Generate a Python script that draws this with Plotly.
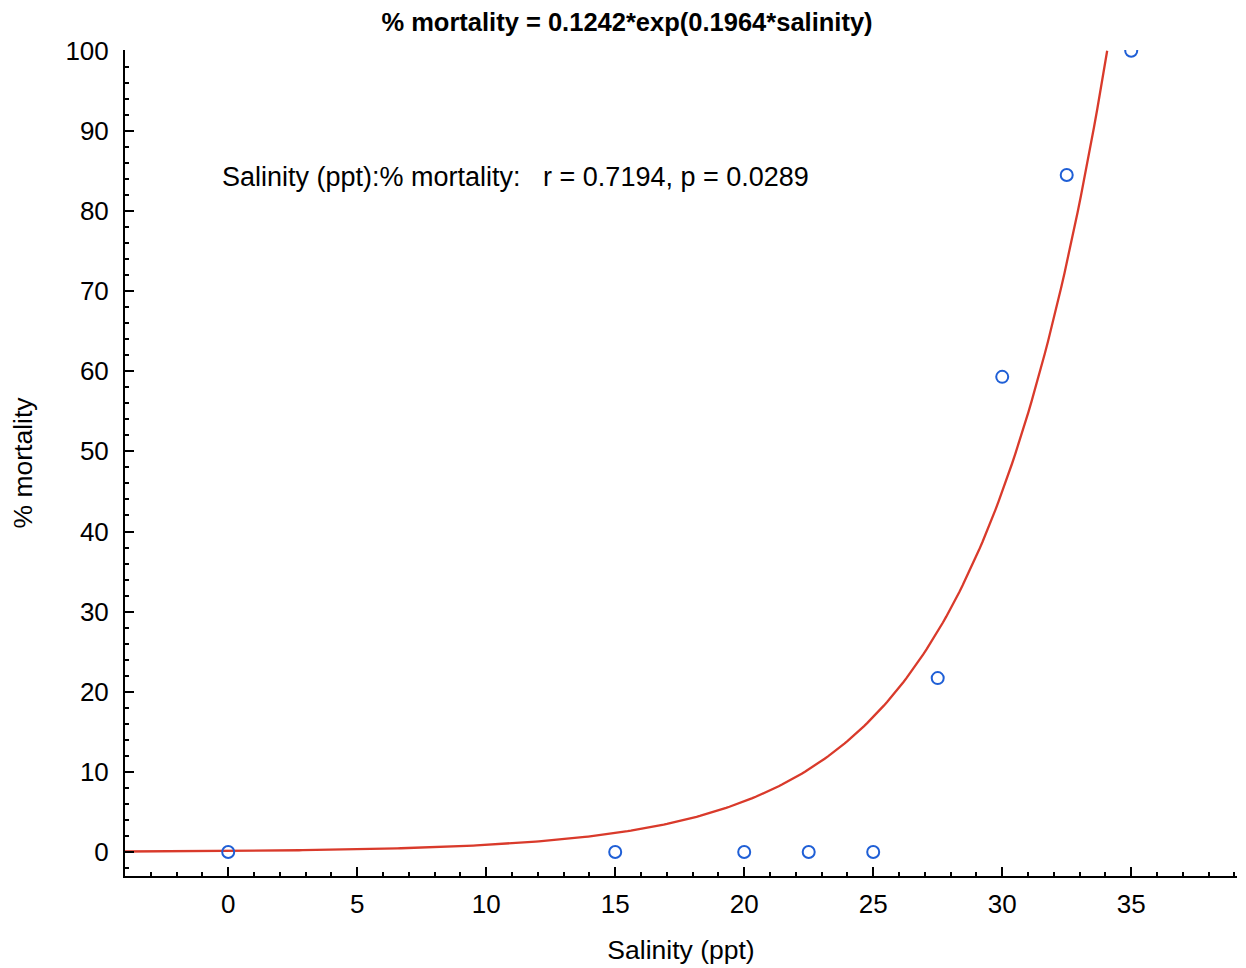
import numpy as np
import plotly.graph_objects as go

# Observed data
salinity = [0, 15, 20, 22.5, 25, 27.5, 30, 32.5, 35]
mortality = [0, 0, 0, 0, 0, 21.7, 59.3, 84.5, 100]

# Fitted model from title: % mortality = a*exp(b*salinity)
fit_a = 0.1242
fit_b = 0.1964
fit_x_start = -4
fit_x_end = np.log(100 / fit_a) / fit_b

x_ticks = [0, 5, 10, 15, 20, 25, 30, 35]
y_ticks = [0, 10, 20, 30, 40, 50, 60, 70, 80, 90, 100]

fx = np.linspace(fit_x_start, fit_x_end, 300)
fy = fit_a * np.exp(fit_b * fx)

font = "Liberation Sans, Arial, Helvetica, sans-serif"

W, H = 1238, 960
L, R, T, B = 117, 9, 42, 92
pw, ph = W - L - R, H - T - B

fig = go.Figure()
fig.add_trace(go.Scatter(x=fx, y=fy, mode="lines",
                         line=dict(color="#d93a2b", width=2.3),
                         hoverinfo="skip", showlegend=False))
fig.add_trace(go.Scatter(x=salinity, y=mortality, mode="markers",
                         marker=dict(symbol="circle-open", size=12,
                                     color="#1f5fd6", line=dict(width=2)),
                         cliponaxis=True, showlegend=False))

fig.add_annotation(text="Salinity (ppt):% mortality:   r = 0.7194, p = 0.0289",
                   xref="paper", yref="paper", x=(220 - 8 - L) / pw, y=(868 - 169) / ph,
                   xanchor="left", yanchor="middle", showarrow=False,
                   font=dict(family=font, size=27, color="black"))

fig.update_layout(
    width=W, height=H,
    margin=dict(l=L, r=R, t=T, b=B),
    paper_bgcolor="white", plot_bgcolor="white",
    font=dict(family=font, color="black"),
    title=dict(text="<b>% mortality = 0.1242*exp(0.1964*salinity)</b>",
               x=0.5, xanchor="center", y=1 - 14 / H, yanchor="middle",
               font=dict(size=25.5, family=font, color="black")),
    xaxis=dict(range=[-4, 39.1], tickvals=x_ticks, ticks="inside", ticklen=9,
               tickwidth=2, tickcolor="black", showline=True, linecolor="black",
               linewidth=2, showgrid=False, zeroline=False, automargin=False,
               tickfont=dict(size=26), ticklabelstandoff=4,
               minor=dict(dtick=1, tick0=0, ticks="inside", ticklen=4, tickwidth=2,
                          tickcolor="black", showgrid=False),
               title=dict(text="Salinity (ppt)", font=dict(size=26.5), standoff=22)),
    yaxis=dict(range=[-3, 100.1], tickvals=y_ticks, ticks="inside", ticklen=9,
               tickwidth=2, tickcolor="black", showline=True, linecolor="black",
               linewidth=2, showgrid=False, zeroline=False, automargin=False,
               tickfont=dict(size=26), ticklabelstandoff=9,
               minor=dict(dtick=2, tick0=0, ticks="inside", ticklen=4, tickwidth=2,
                          tickcolor="black", showgrid=False),
               title=dict(text="% mortality", font=dict(size=26.5), standoff=28)),
)

fig.write_html("out.html")
